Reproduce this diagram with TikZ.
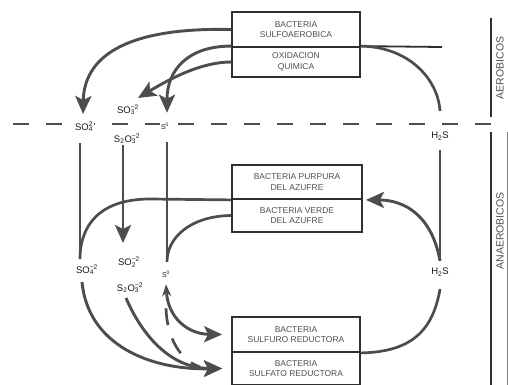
\documentclass[tikz,border=0pt]{standalone}
\usepackage{fontspec}
\setmainfont{Liberation Sans}
\usetikzlibrary{arrows.meta}
\definecolor{lncol}{HTML}{4d4d4d}
\definecolor{bxcol}{HTML}{2f2f2f}
\definecolor{txcol}{HTML}{505050}
\newcommand{\chemss}[2]{\rlap{\textsubscript{#1}}\textsuperscript{#2}}
\tikzset{
  boxnode/.style={draw=bxcol, line width=1.8pt, minimum width=128pt, inner sep=0pt, align=center,
    font=\fontsize{8.5}{10.5}\selectfont, text=txcol},
  arr/.style={draw=lncol, line width=2.9pt, -{Stealth[length=18pt,width=16pt,inset=4pt]}},
  lnst/.style={draw=lncol, line width=2.7pt},
  chem/.style={fill=white, inner sep=0.8pt, font=\fontsize{9.5}{10}\selectfont, text=black!90},
  side/.style={rotate=90, font=\fontsize{10.5}{12}\selectfont, text=txcol},
}
\begin{document}
\begin{tikzpicture}[x=1pt,y=-1pt]
\useasboundingbox (0,0) rectangle (508,384);
\fill[white] (0,0) rectangle (508,384);

% dashed boundary
\draw[draw=lncol, line width=2.8pt, dash pattern=on 16pt off 17pt] (13,124) -- (500,124);

% boxes
\node[boxnode, minimum height=35pt] (bsa) at (296,29.5) {BACTERIA\\SULFOAEROBICA};
\node[boxnode, minimum height=30pt] (oxq) at (296,62) {OXIDACION\\QUIMICA};
\node[boxnode, minimum width=130pt, minimum height=34pt] (bpa) at (297,182) {BACTERIA PURPURA\\DEL AZUFRE};
\node[boxnode, minimum width=130pt, minimum height=33pt] (bva) at (297,215.5) {BACTERIA VERDE\\DEL AZUFRE};
\node[boxnode, minimum height=35pt] (bsr) at (296,334.5) {BACTERIA\\SULFURO REDUCTORA};
\node[boxnode, minimum height=33pt] (bsf) at (296,368.5) {BACTERIA\\SULFATO REDUCTORA};

% chemical labels
\node[chem] (so4a) at (84,127) {SO\chemss{4}{2}};
\node[chem] (so3a) at (128,110) {SO\chemss{3}{−2}};
\node[chem] (s2o3a) at (127,139) {S\textsubscript{2}O\chemss{3}{−2}};
\node[chem, font=\fontsize{7}{7}\selectfont] (s0a) at (165,126) {S\textsuperscript{0}};
\node[chem] (h2sa) at (440,136) {H\textsubscript{2}S};
\node[chem] (so4b) at (87,270) {SO\chemss{4}{−2}};
\node[chem] (so3b) at (129,262) {SO\chemss{2}{−2}};
\node[chem] (s2o3b) at (130,288) {S\textsubscript{2}O\chemss{3}{−2}};
\node[chem, font=\fontsize{7}{7}\selectfont] (s0b) at (166,274) {S\textsuperscript{0}};
\node[chem] (h2sb) at (440,272) {H\textsubscript{2}S};

% side labels
\node[side] (aer) at (500,68) {AEROBICOS};
\node[side] (anaer) at (500,231) {ANAEROBICOS};
\coordinate (ra1) at (491,18);
\coordinate (ra2) at (491,117);
\coordinate (rb1) at (491,132);
\coordinate (rb2) at (491,386);
\draw[draw=bxcol, line width=2pt] (ra1) -- (ra2);
\draw[draw=bxcol, line width=2pt] (rb1) -- (rb2);
\draw[draw=lncol!70, line width=1.2pt] (507.5,132) -- (507.5,386);

% top arrows from aerobic boxes
\draw[arr] (bsa.west) .. controls (120,27) and (84,60) .. ([shift={(-1pt,7pt)}]so4a.north);
\draw[arr] (oxq.north west) .. controls (188,46) and (167,70) .. ([shift={(2pt,9pt)}]s0a.north);
\draw[arr] (oxq.west) .. controls (200,62) and (168,80) .. ([shift={(10pt,6pt)}]so3a.north);

% H2S oxidation
\coordinate (tr) at (442,47);
\draw[draw=bxcol, line width=1.8pt] (oxq.north east) -- (tr);
\draw[lnst] (oxq.north east) .. controls (410,47) and (438,80) .. ([yshift=20pt]h2sa.north);

% vertical lines in anaerobic zone
\draw[lnst] (80,143) -- ++(0,116) coordinate (v1);
\draw[arr] ([xshift=-4pt]s2o3a.south) -- ([xshift=-6pt,yshift=13pt]so3b.north);
\draw[lnst] ([shift={(2pt,-12pt)}]s0a.south) -- ([shift={(1pt,8pt)}]s0b.north);
\draw[lnst] ([yshift=-9pt]h2sa.south) -- ([yshift=6pt]h2sb.north);

% from phototrophic boxes
\draw[lnst] (bpa.south west) -- (150,199) .. controls (100,199) and (80,225) .. (v1);
\draw[lnst] (bva.west) .. controls (190,216) and (167,238) .. ([shift={(1pt,8pt)}]s0b.north);
\draw[arr] ([yshift=6pt]h2sb.north) .. controls (432,216) and (405,200) .. ([xshift=3pt]bpa.south east);

% H2S from reducers
\draw[lnst] ([yshift=-12pt]h2sb.south) .. controls (433,330) and (412,352) .. (bsr.south east);

% reduction arrows
\draw[arr] ([shift={(-5pt,-6pt)}]so4b.south) .. controls (88,345) and (150,370) .. ([xshift=-9pt]bsf.west);
\draw[arr] ([shift={(-4pt,-4pt)}]s2o3b.south) .. controls (142,335) and (170,368) .. ([xshift=-9pt]bsf.west);
\coordinate (dj) at (200,367);
\draw[lnst, dash pattern=on 17pt off 14pt] ([shift={(0pt,-30pt)}]s0b.south) .. controls (167,338) and (180,360) .. (dj);
\draw[draw=lncol, line width=2.9pt, {Stealth[length=12pt,width=9pt]}-{Stealth[length=18pt,width=16pt,inset=4pt]}]
  ([shift={(0pt,-6pt)}]s0b.south) .. controls (168,318) and (188,334) .. ([xshift=-9pt]bsr.west);
\end{tikzpicture}
\end{document}
